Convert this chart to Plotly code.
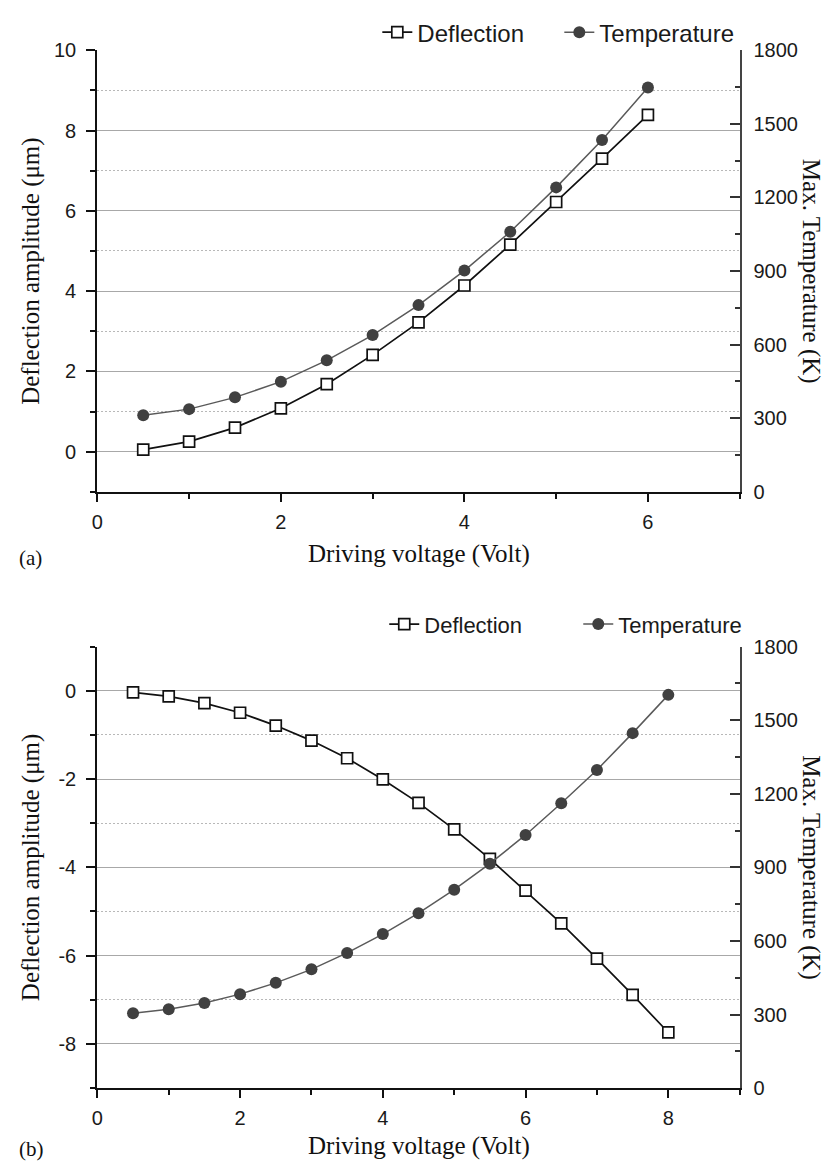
import plotly.graph_objects as go

# ---------------- data ----------------
volt_a = [0.5, 1.0, 1.5, 2.0, 2.5, 3.0, 3.5, 4.0, 4.5, 5.0, 5.5, 6.0]
defl_a = [0.05, 0.25, 0.60, 1.08, 1.68, 2.41, 3.22, 4.14, 5.16, 6.22, 7.30, 8.39]
temp_a = [312, 337, 385, 449, 536, 639, 761, 902, 1060, 1241, 1434, 1648]

volt_b = [0.5, 1.0, 1.5, 2.0, 2.5, 3.0, 3.5, 4.0, 4.5, 5.0, 5.5, 6.0, 6.5, 7.0, 7.5, 8.0]
defl_b = [-0.04, -0.13, -0.28, -0.50, -0.79, -1.13, -1.53, -2.01, -2.54, -3.14,
          -3.81, -4.53, -5.27, -6.07, -6.89, -7.74]
temp_b = [305, 321, 347, 383, 429, 484, 551, 628, 713, 809, 915, 1032, 1161, 1297, 1447, 1603]

# left-axis tick labels of panel (b) (hyphen minus as printed)
yb_tickvals = [-8, -6, -4, -2, 0]
yb_ticktext = ["-8", "-6", "-4", "-2", "0"]

x_title = "Driving voltage (Volt)"
yl_title = "Deflection amplitude (μm)"
yr_title = "Max. Temperature (K)"
series_names = ["Deflection", "Temperature"]
panel_tags = ["(a)", "(b)"]

# ---------------- geometry ----------------
W, H = 835, 1172
def px(x):
    return x / W
def py(y):
    return 1 - y / H

xdom = [px(92), px(739)]
ydom_a = [py(490), py(40)]
ydom_b = [py(1097.7), py(647.7)]

SANS = "Liberation Sans, Arial, sans-serif"
SERIF = "Liberation Serif, Times New Roman, serif"
tickfont = dict(family=SANS, size=20, color="#1a1a1a")

fig = go.Figure()

defl_style = dict(mode="lines+markers",
                  line=dict(color="#111111", width=1.7),
                  marker=dict(symbol="square", size=11, color="white",
                              line=dict(color="#111111", width=1.7)))
temp_style = dict(mode="lines+markers",
                  line=dict(color="#5a5a5a", width=1.5),
                  marker=dict(symbol="circle", size=12, color="#404040",
                              line=dict(width=0)))

fig.add_trace(go.Scatter(x=volt_a, y=defl_a, name=series_names[0], xaxis="x", yaxis="y",
                         legend="legend", **defl_style))
fig.add_trace(go.Scatter(x=volt_a, y=temp_a, name=series_names[1], xaxis="x", yaxis="y2",
                         legend="legend", **temp_style))
fig.add_trace(go.Scatter(x=volt_b, y=defl_b, name=series_names[0], xaxis="x3", yaxis="y3",
                         legend="legend2", **defl_style))
fig.add_trace(go.Scatter(x=volt_b, y=temp_b, name=series_names[1], xaxis="x3", yaxis="y4",
                         legend="legend2", **temp_style))

def xbottom(rng, anchor):
    return dict(domain=xdom, range=rng, anchor=anchor, tick0=0, dtick=2,
                ticks="outside", ticklen=8, tickwidth=1.5, tickcolor="#111",
                showline=True, linecolor="#111", linewidth=2.2,
                showgrid=False, zeroline=False, tickfont=tickfont,
                ticklabelstandoff=3,
                minor=dict(dtick=1, tick0=0, ticks="outside", ticklen=5,
                           tickwidth=1.5, tickcolor="#111", showgrid=False))

def xtop(rng, anchor, over):
    return dict(domain=xdom, range=rng, anchor=anchor, overlaying=over, side="top",
                tick0=0, dtick=1, ticks="inside", ticklen=7, tickwidth=1.5,
                tickcolor="#111", showticklabels=False,
                showline=True, linecolor="#111", linewidth=2.2,
                showgrid=False, zeroline=False)

def yleft(rng, dom, anchor, **kw):
    d = dict(domain=dom, range=rng, anchor=anchor, tick0=0, dtick=2,
             ticks="outside", ticklen=9, tickwidth=1.5, tickcolor="#111",
             showline=True, linecolor="#111", linewidth=2.2,
             showgrid=True, gridcolor="#a8a8a8", gridwidth=1,
             zeroline=False, tickfont=tickfont, ticklabelstandoff=6,
             minor=dict(dtick=1, tick0=0, ticks="outside", ticklen=5,
                        tickwidth=1.5, tickcolor="#111",
                        showgrid=True, gridcolor="#b8b8b8", gridwidth=1,
                        griddash="2px,2px"))
    d.update(kw)
    return d

def yright(dom, anchor, over):
    return dict(domain=dom, range=[0, 1800], anchor=anchor, overlaying=over,
                side="right", tick0=0, dtick=300,
                ticks="inside", ticklen=10, tickwidth=1.5, tickcolor="#333",
                showline=True, linecolor="#444", linewidth=1.6,
                showgrid=False, zeroline=False, tickfont=tickfont,
                ticklabelstandoff=8,
                minor=dict(dtick=150, tick0=0, ticks="inside", ticklen=5,
                           tickwidth=1.5, tickcolor="#333", showgrid=False))

legend_common = dict(orientation="h", xanchor="left", yanchor="middle",
                     bgcolor="rgba(0,0,0,0)", borderwidth=0,
                     itemclick=False, itemdoubleclick=False,
                     entrywidthmode="pixels")

fig.update_layout(
    width=W, height=H, autosize=False,
    margin=dict(l=0, r=0, t=0, b=0),
    paper_bgcolor="white", plot_bgcolor="white",
    xaxis=xbottom([0, 7], "y"),
    xaxis2=xtop([0, 7], "y", "x"),
    yaxis=yleft([-1, 10], ydom_a, "x"),
    yaxis2=yright(ydom_a, "x", "y"),
    xaxis3=xbottom([0, 9], "y3"),
    xaxis4=xtop([0, 9], "y3", "x3"),
    yaxis3=yleft([-9, 1], ydom_b, "x3", tickmode="array",
                 tickvals=yb_tickvals, ticktext=yb_ticktext),
    yaxis4=yright(ydom_b, "x3", "y3"),
    legend=dict(x=px(374), y=py(22), font=dict(family=SANS, size=24, color="#1a1a1a"),
                entrywidth=137, **legend_common),
    legend2=dict(x=px(381), y=py(625), font=dict(family=SANS, size=22, color="#1a1a1a"),
                 entrywidth=149, **legend_common),
    showlegend=True,
)

ann = []
for yc, ytag, tag, xt_y in [((40 + 490) / 2, 557, panel_tags[0], 553),
                            ((647.7 + 1097.7) / 2, 1160, panel_tags[1], 1157)]:
    ann.append(dict(text=yl_title, x=px(25), y=py(yc), xref="paper", yref="paper",
                    textangle=-90, showarrow=False, xanchor="center", yanchor="middle",
                    font=dict(family=SERIF, size=25, color="#111")))
    ann.append(dict(text=yr_title, x=px(811), y=py(yc), xref="paper", yref="paper",
                    textangle=90, showarrow=False, xanchor="center", yanchor="middle",
                    font=dict(family=SERIF, size=25, color="#111")))
    ann.append(dict(text=x_title, x=px(415.5), y=py(xt_y), xref="paper", yref="paper",
                    showarrow=False, xanchor="center", yanchor="middle",
                    font=dict(family=SERIF, size=25, color="#111")))
    ann.append(dict(text=tag, x=px(11), y=py(ytag), xref="paper", yref="paper",
                    showarrow=False, xanchor="left", yanchor="middle",
                    font=dict(family=SERIF, size=21, color="#111")))
fig.update_layout(annotations=ann)

fig.write_html("out.html")
